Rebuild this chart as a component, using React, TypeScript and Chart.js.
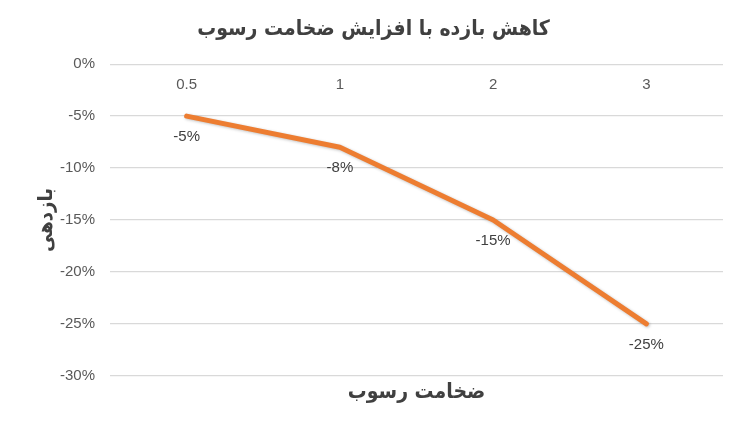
import React, { useEffect, useRef } from "react";
import { Chart, registerables } from "chart.js";

Chart.register(...registerables);

const chartTitle = "کاهش بازده با افزایش ضخامت رسوب";
const xAxisTitle = "ضخامت رسوب";
const yAxisTitle = "بازدهی";
const thicknessCategories = ["0.5", "1", "2", "3"];
const efficiencyChange = [-5, -8, -15, -25];
const yMin = -30;
const yMax = 0;
const yStep = 5;

const persianFont = "'DejaVu Sans Condensed', 'DejaVu Sans', sans-serif";
const numberFont = "'Liberation Sans', Arial, sans-serif";

const dataLabelPlugin = {
  id: "dataLabels",
  beforeDatasetDraw(chart: any) {
    const ctx = chart.ctx;
    ctx.save();
    ctx.shadowColor = "rgba(0,0,0,0.25)";
    ctx.shadowBlur = 3;
    ctx.shadowOffsetX = 1;
    ctx.shadowOffsetY = 1;
  },
  afterDatasetDraw(chart: any) {
    chart.ctx.restore();
  },
  afterDatasetsDraw(chart: any) {
    const ctx = chart.ctx;
    const meta = chart.getDatasetMeta(0);
    const values = chart.data.datasets[0].data;
    ctx.save();
    ctx.font = `15px ${numberFont}`;
    ctx.fillStyle = "#404040";
    ctx.textAlign = "center";
    ctx.textBaseline = "middle";
    meta.data.forEach((pt: any, i: number) => {
      ctx.fillText(`${values[i]}%`, pt.x, pt.y + 21);
    });
    ctx.restore();
  },
};

export default function App() {
  const canvasRef = useRef<HTMLCanvasElement | null>(null);

  useEffect(() => {
    document.body.style.margin = "0";
    const canvas = canvasRef.current;
    if (!canvas) return;
    const chart = new Chart(canvas, {
      type: "line",
      data: {
        labels: thicknessCategories,
        datasets: [
          {
            data: efficiencyChange,
            xAxisID: "x",
            yAxisID: "y",
            borderColor: "#ED7D31",
            borderWidth: 5,
            borderCapStyle: "round",
            borderJoinStyle: "round",
            pointRadius: 0,
            pointHoverRadius: 0,
            tension: 0,
            fill: false,
          },
        ],
      },
      options: {
        responsive: false,
        animation: false,
        events: [],
        layout: { padding: { left: 8, right: 0, top: 0, bottom: 26 } },
        plugins: {
          legend: { display: false },
          tooltip: { enabled: false },
          title: {
            display: true,
            text: chartTitle,
            color: "#404040",
            font: { family: persianFont, size: 21, weight: "bold" },
            padding: { top: 17, bottom: 22 },
          },
        },
        scales: {
          x: {
            type: "category",
            offset: true,
            position: { y: 0 } as any,
            grid: { display: false, drawTicks: false },
            border: { display: false },
            ticks: {
              color: "#595959",
              font: { family: numberFont, size: 15 },
              padding: 12,
            },
          },
          x2: {
            type: "category",
            position: "bottom",
            offset: true,
            grid: { display: false, drawTicks: false },
            border: { display: false },
            ticks: { display: false },
            title: {
              display: true,
              text: xAxisTitle,
              color: "#404040",
              font: { family: persianFont, size: 21, weight: "bold" },
              padding: { top: 4, bottom: 0 },
            },
          },
          y: {
            min: yMin,
            max: yMax,
            grid: { color: "#D9D9D9", lineWidth: 1.3, drawTicks: false },
            border: { display: false },
            afterFit: (scale: any) => {
              scale.width = 102;
            },
            ticks: {
              stepSize: yStep,
              color: "#595959",
              font: { family: numberFont, size: 15 },
              padding: 15,
              callback: (v: any) => `${v}%`,
            },
            title: {
              display: true,
              text: yAxisTitle,
              color: "#404040",
              font: { family: persianFont, size: 20, weight: "bold" },
              padding: { top: 27, bottom: 0 },
            },
          },
          yRight: {
            type: "linear",
            position: "right",
            grid: { display: false, drawTicks: false },
            border: { display: false },
            ticks: { display: false },
            afterFit: (scale: any) => {
              scale.width = 16;
            },
          },
        },
      },
      plugins: [dataLabelPlugin],
    });
    return () => chart.destroy();
  }, []);

  return (
    <div style={{ width: 739, height: 431, background: "#fff" }}>
      <canvas ref={canvasRef} width={739} height={431} />
    </div>
  );
}
